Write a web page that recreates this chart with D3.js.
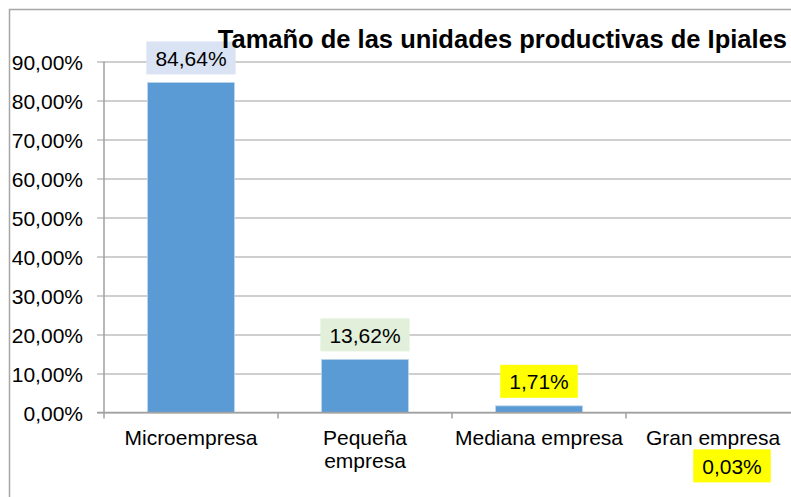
<!DOCTYPE html>
<html>
<head>
<meta charset="utf-8">
<script src="https://cdn.jsdelivr.net/npm/d3@7"></script>
<style>
  html, body { margin: 0; padding: 0; background: #ffffff; }
  svg { display: block; font-family: "Liberation Sans", Arial, sans-serif; }
</style>
</head>
<body>
<svg id="chart" width="791" height="497"></svg>
<script>
// chart data
var title = "Tamaño de las unidades productivas de Ipiales";
var categories = ["Microempresa", "Pequeña empresa", "Mediana empresa", "Gran empresa"];
var tickLines = [["Microempresa"], ["Pequeña", "empresa"], ["Mediana empresa"], ["Gran empresa"]];
var shares = [0.8464, 0.1362, 0.0171, 0.0003];
var yTicks = [0, 0.1, 0.2, 0.3, 0.4, 0.5, 0.6, 0.7, 0.8, 0.9];
var labelFills = ["#dae3f3", "#e2efda", "#ffff00", "#ffff00"];

var svg = d3.select("#chart");

var es = d3.formatLocale({ decimal: ",", thousands: ".", grouping: [3], currency: ["", "€"] });
var pct = es.format(".2%");

// outer chart frame (right/bottom edges fall outside the picture)
svg.append("rect")
  .attr("x", 9.5).attr("y", 9.5)
  .attr("width", 820).attr("height", 520)
  .attr("fill", "#fff")
  .attr("stroke", "#a6a6a6")
  .attr("stroke-width", 1.5);

var x = d3.scaleBand()
  .domain(categories)
  .range([104, 800])
  .paddingInner(0.5)
  .paddingOuter(0.25);

var y = d3.scaleLinear()
  .domain([0, 0.9])
  .range([412.5, 61.5]);

var step = x.step();
var gap = (step - x.bandwidth()) / 2;

// gridlines + y axis
var yAxis = d3.axisLeft(y)
  .tickValues(yTicks)
  .tickFormat(function(d) { return pct(d); })
  .tickSize(-(800 - 104))
  .tickPadding(0);

var gy = svg.append("g")
  .attr("transform", "translate(104,0)")
  .call(yAxis);
gy.select(".domain").remove();
gy.selectAll(".tick line")
  .attr("x1", -7)
  .attr("stroke", "#a0a0a0")
  .attr("stroke-width", 1.2);
gy.selectAll(".tick text")
  .attr("x", -21)
  .attr("dy", "0.36em")
  .attr("fill", "#000")
  .style("font-size", "21px");

// y axis line
svg.append("line")
  .attr("x1", 104).attr("x2", 104)
  .attr("y1", y(0.9)).attr("y2", y(0))
  .attr("stroke", "#a0a0a0")
  .attr("stroke-width", 1.5);

// bars
svg.append("g")
  .selectAll("rect")
  .data(shares)
  .enter().append("rect")
    .attr("x", function(d, i) { return x(categories[i]); })
    .attr("y", function(d) { return y(d); })
    .attr("width", x.bandwidth())
    .attr("height", function(d) { return y(0) - y(d); })
    .attr("fill", "#5b9bd5")
    .attr("stroke", "#bdd7ee")
    .attr("stroke-width", 0.8);

// x axis line and category ticks
svg.append("line")
  .attr("x1", 97).attr("x2", 800)
  .attr("y1", y(0)).attr("y2", y(0))
  .attr("stroke", "#a0a0a0")
  .attr("stroke-width", 1.5);

var bounds = categories.map(function(c) { return x(c) - gap; });
bounds.push(x(categories[categories.length - 1]) + x.bandwidth() + gap);
svg.append("g")
  .selectAll("line")
  .data(bounds)
  .enter().append("line")
    .attr("x1", function(d) { return d; })
    .attr("x2", function(d) { return d; })
    .attr("y1", y(0))
    .attr("y2", y(0) + 6)
    .attr("stroke", "#a0a0a0")
    .attr("stroke-width", 1.5);

// category labels
var cat = svg.append("g")
  .selectAll("text")
  .data(categories)
  .enter().append("text")
    .attr("x", function(d) { return x(d) + x.bandwidth() / 2; })
    .attr("y", 445)
    .attr("text-anchor", "middle")
    .style("font-size", "21px")
    .attr("fill", "#000");
cat.each(function(d, i) {
  var t = d3.select(this);
  tickLines[i].forEach(function(line, k) {
    t.append("tspan")
      .attr("x", x(d) + x.bandwidth() / 2)
      .attr("dy", k === 0 ? 0 : 23)
      .text(line);
  });
});

// data labels with coloured boxes; the last one was dragged under its axis label
var nudge = { "Gran empresa": [19, 78] };
var lab = svg.append("g")
  .selectAll("g")
  .data(shares)
  .enter().append("g");

lab.each(function(d, i) {
  var g = d3.select(this);
  var c = categories[i];
  var off = nudge[c] || [0, 0];
  var cx = x(c) + x.bandwidth() / 2 + off[0];
  var bottom = y(d) - 8 + off[1];
  var txt = g.append("text")
    .attr("x", cx)
    .attr("y", bottom - 8.5)
    .attr("text-anchor", "middle")
    .style("font-size", "21px")
    .attr("fill", "#000")
    .text(pct(d));
  var w = txt.node().getBBox().width + 18;
  g.insert("rect", "text")
    .attr("x", cx - w / 2)
    .attr("y", bottom - 33)
    .attr("width", w)
    .attr("height", 33)
    .attr("fill", labelFills[i]);
});

// title
svg.append("text")
  .attr("x", 787)
  .attr("y", 48)
  .attr("text-anchor", "end")
  .style("font-size", "25.5px")
  .style("font-weight", "bold")
  .attr("fill", "#000")
  .text(title);
</script>
</body>
</html>
